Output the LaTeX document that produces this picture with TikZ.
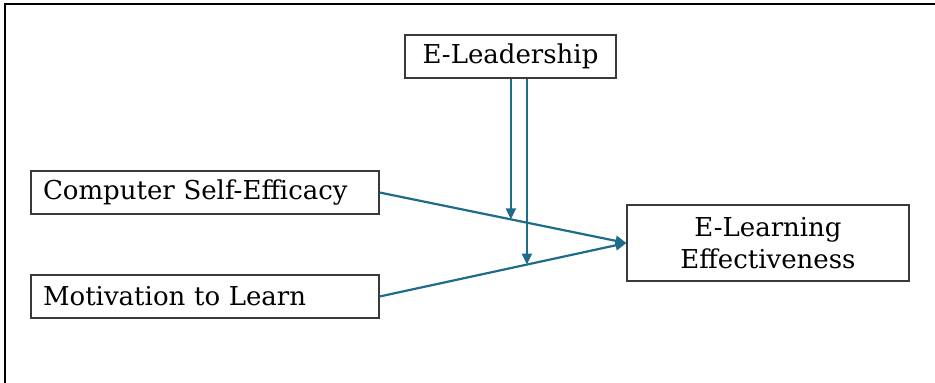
\documentclass[tikz,border=0pt]{standalone}
\usepackage{fontspec}
\setmainfont{DejaVu Serif}
\usetikzlibrary{arrows.meta,calc}
\definecolor{linkblue}{HTML}{1F6B8A}
\definecolor{boxline}{HTML}{3A3A3A}
\begin{document}
\begin{tikzpicture}[x=1pt,y=-1pt,
  varbox/.style={draw=boxline,line width=1.2pt,inner sep=0pt,
    font=\fontsize{26}{32}\selectfont},
  leftbox/.style={varbox,minimum height=43pt,text width=324pt,
    inner xsep=12pt,align=left},
  link/.style={draw=linkblue,line width=2.2pt,
    -{Triangle[length=11pt,width=10pt]}}]
  \useasboundingbox (0,0) rectangle (935,383);
  % page frame
  \draw[line width=2pt] (5,383) |- (935,4);
  % variables
  \node[varbox,minimum width=211pt,minimum height=43pt] (lead) at (510.5,56.5) {E-Leadership};
  \node[leftbox] (cse) at (205,192.5) {Computer Self-Efficacy};
  \node[leftbox] (mot) at (205,296.5) {Motivation to Learn};
  \node[varbox,minimum width=282pt,minimum height=76pt,align=center] (ele) at (768,243)
    {E-Learning\\Effectiveness};
  % direct effects
  \draw[link] (cse.east) -- (ele.west);
  \draw[link] (mot.east) -- (ele.west);
  % moderating effects
  \coordinate (m1) at ($(cse.east)!0.532!(ele.west)$);
  \coordinate (m2) at ($(mot.east)!0.597!(ele.west)$);
  \draw[link] (lead.south -| m1) -- (m1);
  \draw[link] (lead.south -| m2) -- (m2);
\end{tikzpicture}
\end{document}
